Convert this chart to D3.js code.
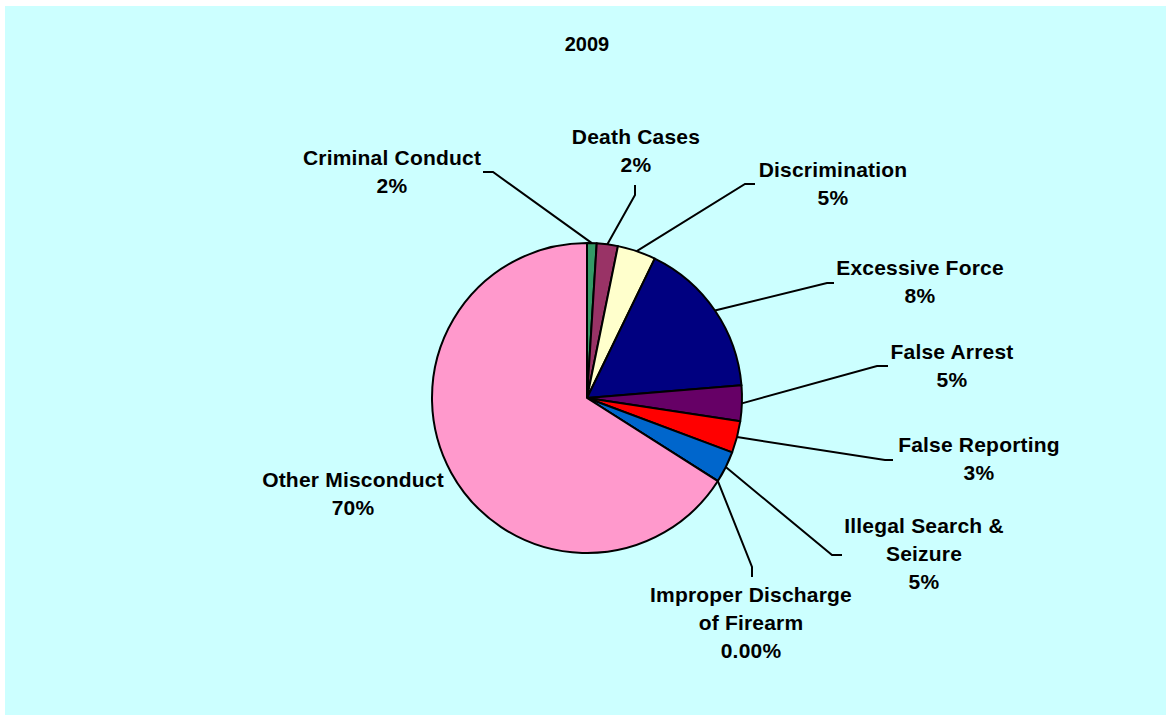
<!DOCTYPE html>
<html>
<head>
<meta charset="utf-8">
<script src="https://cdn.jsdelivr.net/npm/d3@7"></script>
<style>
  body { margin: 0; background: #fff; }
  text { font-family: "Liberation Sans", Arial, sans-serif; font-weight: bold; fill: #000; }
</style>
</head>
<body>
<div id="viz"></div>
<script>
// slice sizes as drawn (share of complaints)
var categories = ['Criminal Conduct', 'Death Cases', 'Discrimination', 'Excessive Force',
                  'False Arrest', 'False Reporting', 'Illegal Search & Seizure',
                  'Improper Discharge of Firearm', 'Other Misconduct'];
var values = [1.0, 2.2, 4.0, 16.5, 3.7, 3.3, 3.3, 0, 66.0];
// label text as printed on the chart
var labelLines = [
  ['Criminal Conduct', '2%'],
  ['Death Cases', '2%'],
  ['Discrimination', '5%'],
  ['Excessive Force', '8%'],
  ['False Arrest', '5%'],
  ['False Reporting', '3%'],
  ['Illegal Search &', 'Seizure', '5%'],
  ['Improper Discharge', 'of Firearm', '0.00%'],
  ['Other Misconduct', '70%']
];
var colors = ['#339966', '#993366', '#FFFFCC', '#000080', '#660066',
              '#FF0000', '#0066CC', '#FF99CC', '#FF99CC'];

// label placement (manual, like the dragged labels in the original)
var labelPos = [
  { x: 392, y: 165, elbow: [493, 172], end: [483, 172] },
  { x: 636, y: 144, elbow: [635, 195], end: [635, 185] },
  { x: 833, y: 177, elbow: [745, 184], end: [755, 184] },
  { x: 920, y: 275, elbow: [827, 283], end: [834, 283] },
  { x: 952, y: 359, elbow: [877, 366], end: [888, 366] },
  { x: 979, y: 452, elbow: [885, 460], end: [893, 460] },
  { x: 924, y: 533, elbow: [832, 555], end: [842, 555] },
  { x: 751, y: 602, elbow: [752, 567], end: [752, 577] },
  { x: 353, y: 487, elbow: null, end: null }
];

var W = 1166, H = 715,
    cx = 587, cy = 398, radius = 155,
    lineH = 28;

var svg = d3.select('#viz').append('svg')
  .attr('width', W)
  .attr('height', H);

svg.append('rect')
  .attr('x', 5).attr('y', 6)
  .attr('width', W - 5).attr('height', H - 6)
  .attr('fill', '#CCFFFF');

svg.append('text')
  .attr('x', cx).attr('y', 51)
  .attr('text-anchor', 'middle')
  .style('font-size', '20px')
  .text('2009');

var pie = d3.pie().sort(null).value(function(d) { return d; });
var arcs = pie(values);
var arc = d3.arc().innerRadius(0).outerRadius(radius);

var g = svg.append('g').attr('transform', 'translate(' + cx + ',' + cy + ')');

g.selectAll('path').data(arcs)
  .enter().append('path')
    .attr('d', arc)
    .attr('fill', function(d, i) { return colors[i]; })
    .attr('stroke', '#000')
    .attr('stroke-width', 2)
    .attr('stroke-linejoin', 'round');

// leader lines from the slice rim to the label
arcs.forEach(function(d, i) {
  var p = labelPos[i];
  if (!p.elbow) return;
  var a = (d.startAngle + d.endAngle) / 2;
  var sx = cx + radius * Math.sin(a),
      sy = cy - radius * Math.cos(a);
  svg.append('polyline')
    .attr('points', [[sx, sy], p.elbow, p.end].map(function(q) { return q.join(','); }).join(' '))
    .attr('fill', 'none')
    .attr('stroke', '#000')
    .attr('stroke-width', 2);
});

labelLines.forEach(function(lines, i) {
  var p = labelPos[i];
  var t = svg.append('text')
    .attr('text-anchor', 'middle')
    .style('font-size', '21px')
    .style('letter-spacing', '0.2px');
  lines.forEach(function(s, j) {
    t.append('tspan')
      .attr('x', p.x)
      .attr('y', p.y + j * lineH)
      .text(s);
  });
});
</script>
</body>
</html>
